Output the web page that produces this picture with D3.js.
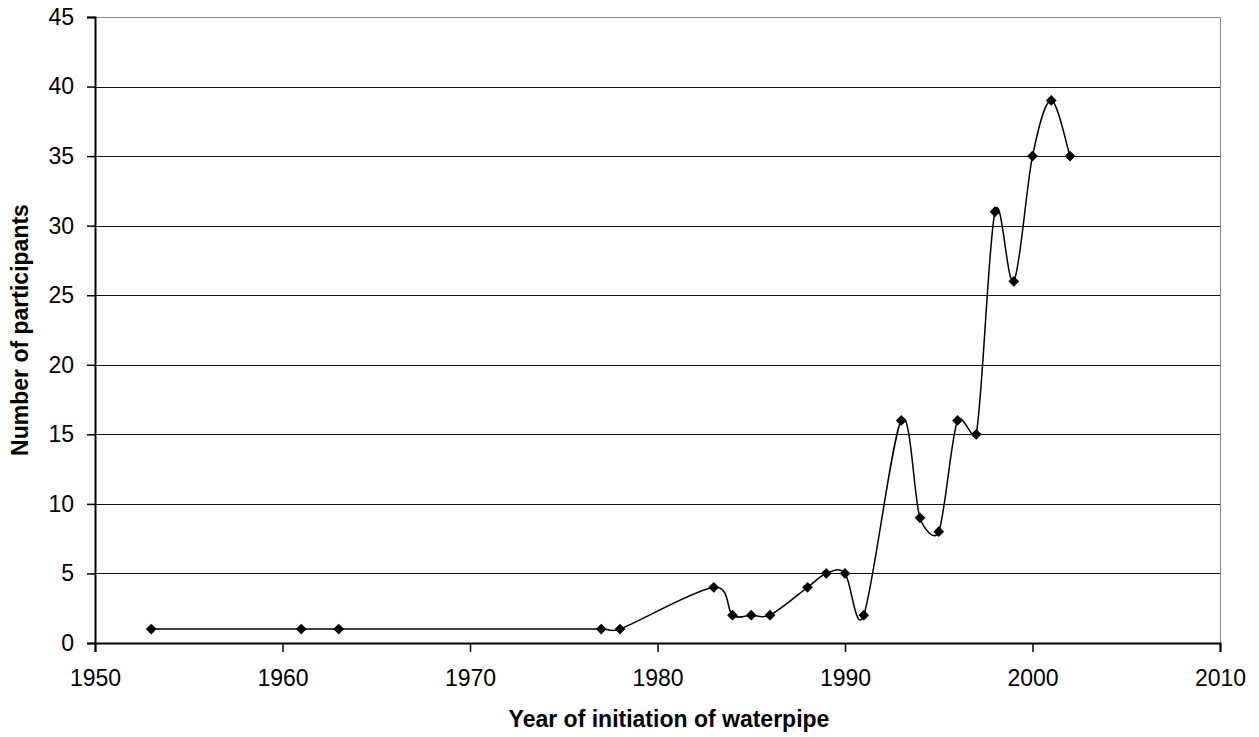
<!DOCTYPE html>
<html>
<head>
<meta charset="utf-8">
<script src="https://cdn.jsdelivr.net/npm/d3@7"></script>
<style>
  body { margin: 0; background: #fff; }
  text { font-family: "Liberation Sans", Arial, sans-serif; }
</style>
</head>
<body>
<div class="chart-container"></div>
<script>
// data
var years  = [1953, 1961, 1963, 1977, 1978, 1983, 1984, 1985, 1986, 1988, 1989, 1990, 1991, 1993, 1994, 1995, 1996, 1997, 1998, 1999, 2000, 2001, 2002];
var counts = [1, 1, 1, 1, 1, 4, 2, 2, 2, 4, 5, 5, 2, 16, 9, 8, 16, 15, 31, 26, 35, 39, 35];
var xTicks = [1950, 1960, 1970, 1980, 1990, 2000, 2010];
var yTicks = [0, 5, 10, 15, 20, 25, 30, 35, 40, 45];

var width = 1259, height = 737;
var margin = {left: 95, right: 39, top: 17, bottom: 94};

var svg = d3.select(".chart-container")
    .append("svg")
    .attr("width", width)
    .attr("height", height);

var x = d3.scaleLinear().domain([1950, 2010]).range([margin.left, width - margin.right]);
var y = d3.scaleLinear().domain([0, 45]).range([height - margin.bottom, margin.top]);

var points = years.map(function(d, i) { return {year: d, value: counts[i]}; });

// grid lines
svg.append("g")
    .selectAll("line")
    .data(yTicks.filter(function(d) { return d > 0 && d < 45; }))
    .enter().append("line")
    .attr("x1", x(1950))
    .attr("x2", x(2010))
    .attr("y1", function(d) { return Math.round(y(d)) + 0.5; })
    .attr("y2", function(d) { return Math.round(y(d)) + 0.5; })
    .style("stroke", "#111")
    .style("stroke-width", 1);

// top and right border
svg.append("path")
    .attr("d", "M" + x(1950) + "," + (Math.round(y(45)) + 0.5) + "H" + (Math.round(x(2010)) + 0.5) + "V" + y(0))
    .style("fill", "none")
    .style("stroke", "#888")
    .style("stroke-width", 1);

// axes
var yAxis = svg.append("g")
    .attr("transform", "translate(" + x(1950) + ",0)")
    .call(d3.axisLeft(y).tickValues(yTicks).tickSize(8).tickPadding(13));
var xAxis = svg.append("g")
    .attr("transform", "translate(0," + y(0) + ")")
    .call(d3.axisBottom(x).tickValues(xTicks).tickFormat(d3.format("d")).tickSize(9).tickPadding(18));

[xAxis, yAxis].forEach(function(a) {
    a.attr("font-size", null).attr("font-family", null);
    a.selectAll("path").style("stroke", "#000").style("stroke-width", 2);
    a.selectAll("line").style("stroke", "#000").style("stroke-width", 1.5);
    a.selectAll("text")
        .style("font-size", "23px")
        .style("fill", "#000");
});

// Excel-style smoothed line: Bezier segments with 1/6 tangents, shortened for uneven spacing
function smoothPath(pts) {
    var p = d3.path();
    var n = pts.length;
    p.moveTo(pts[0][0], pts[0][1]);
    function dist(a, b) { return Math.hypot(a[0] - b[0], a[1] - b[1]); }
    for (var i = 0; i < n - 1; i++) {
        var p0 = pts[Math.max(i - 1, 0)], p1 = pts[i], p2 = pts[i + 1], p3 = pts[Math.min(i + 2, n - 1)];
        var d12 = dist(p1, p2), d02 = dist(p0, p2), d13 = dist(p1, p3);
        var f1 = d02 > 0 ? Math.min(1 / 6, d12 / (2 * d02)) : 0;
        var f2 = d13 > 0 ? Math.min(1 / 6, d12 / (2 * d13)) : 0;
        p.bezierCurveTo(
            p1[0] + (p2[0] - p0[0]) * f1, p1[1] + (p2[1] - p0[1]) * f1,
            p2[0] - (p3[0] - p1[0]) * f2, p2[1] - (p3[1] - p1[1]) * f2,
            p2[0], p2[1]);
    }
    return p.toString();
}

svg.append("path")
    .attr("d", smoothPath(points.map(function(d) { return [x(d.year), y(d.value)]; })))
    .style("fill", "none")
    .style("stroke", "#000")
    .style("stroke-width", 1.5);

// diamond markers
svg.append("g")
    .selectAll("path")
    .data(points)
    .enter().append("path")
    .attr("d", d3.symbol().type(d3.symbolSquare).size(58))
    .attr("transform", function(d) {
        return "translate(" + x(d.year) + "," + y(d.value) + ") rotate(45)";
    })
    .style("fill", "#000");

// axis titles
svg.append("text")
    .attr("x", 669)
    .attr("y", 727)
    .attr("text-anchor", "middle")
    .style("font-size", "23px")
    .style("font-weight", "bold")
    .text("Year of initiation of waterpipe");

svg.append("text")
    .attr("transform", "translate(28," + ((y(0) + y(45)) / 2) + ") rotate(-90)")
    .attr("text-anchor", "middle")
    .style("font-size", "23px")
    .style("font-weight", "bold")
    .text("Number of participants");
</script>
</body>
</html>
